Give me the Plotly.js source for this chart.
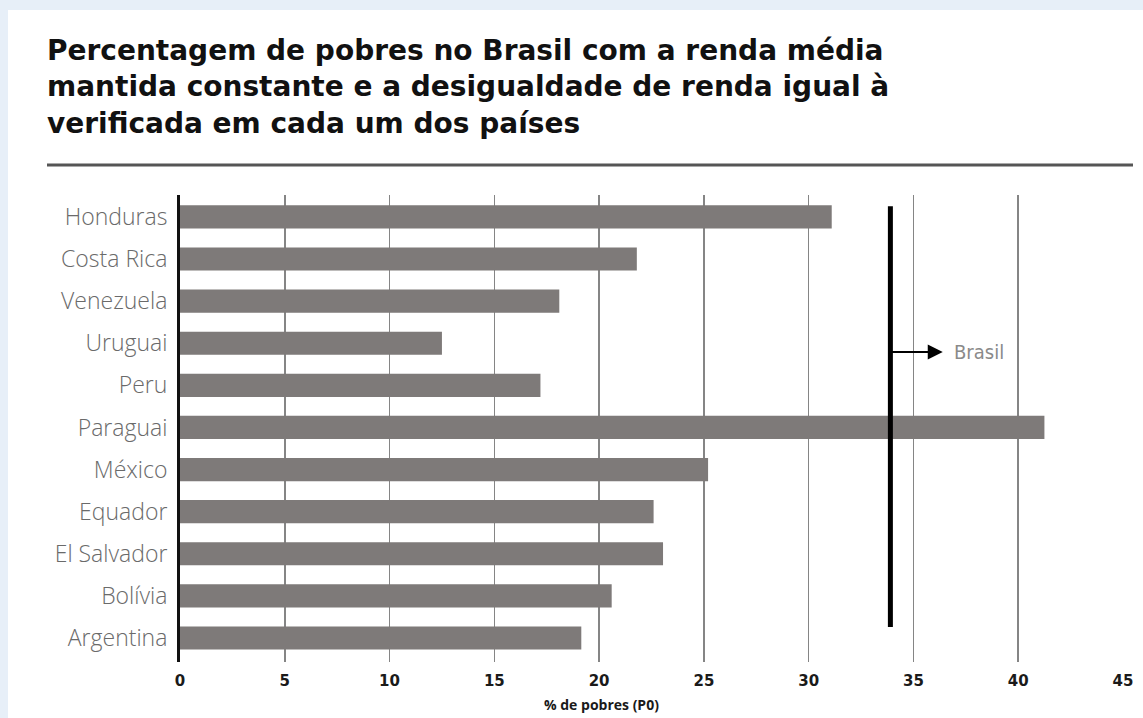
<!DOCTYPE html>
<html>
<head>
<meta charset="utf-8">
<script src="https://cdn.plot.ly/plotly-3.0.1.min.js"></script>
<style>
  html, body { margin: 0; padding: 0; background: #e7eff8; width: 1143px; height: 718px; overflow: hidden; }
  #chart { position: absolute; left: 8px; top: 10px; width: 1135px; height: 708px; background: #ffffff; }
</style>
</head>
<body>
<div id="chart"></div>
<script>
// ---- data ----
const countries = ['Honduras', 'Costa Rica', 'Venezuela', 'Uruguai', 'Peru', 'Paraguai', 'México', 'Equador', 'El Salvador', 'Bolívia', 'Argentina'];
const povertyPct = [31.1, 21.8, 18.1, 12.5, 17.2, 41.25, 25.2, 22.6, 23.05, 20.6, 19.15];
const brasilPct = [33.9];
const brasilLabel = ['Brasil'];
const xTickVals = [0, 5, 10, 15, 20, 25, 30, 35, 40, 45];
const titleLines = ['Percentagem de pobres no Brasil com a renda média', 'mantida constante e a desigualdade de renda igual à', 'verificada em cada um dos países'];
const xTitle = '% de pobres (P0)';

// ---- layout geometry ----
const W = 1135, H = 708, OFFX = 8, OFFY = 10;
const M = { l: 172, r: 20, t: 185, b: 56 };
const plotW = W - M.l - M.r, plotH = H - M.t - M.b;
const px = pageX => (pageX - OFFX - M.l) / plotW;
const py = pageY => 1 - (pageY - OFFY - M.t) / plotH;

const trace = {
  type: 'bar',
  orientation: 'h',
  y: countries,
  x: povertyPct,
  width: 0.55,
  marker: { color: '#7e7a79', line: { width: 0 } },
  hoverinfo: 'x+y'
};

const layout = {
  width: W,
  height: H,
  margin: M,
  paper_bgcolor: '#ffffff',
  plot_bgcolor: '#ffffff',
  showlegend: false,
  title: {
    text: titleLines.join('<br>'),
    font: { family: 'DejaVu Sans', size: 28, color: '#111111', weight: 700 },
    x: (47 - OFFX) / W, xanchor: 'left', xref: 'container',
    y: 1 - 50 / H, yanchor: 'top', yref: 'container'
  },
  xaxis: {
    range: [0, 45],
    tickvals: xTickVals,
    ticktext: xTickVals.map(String),
    showgrid: true,
    gridcolor: '#858585',
    gridwidth: 1.5,
    zeroline: false,
    showline: false,
    ticks: '',
    ticklabelstandoff: 8,
    tickfont: { family: 'DejaVu Sans', size: 15, color: '#1a1a1a', weight: 700 },
    fixedrange: true
  },
  yaxis: {
    type: 'category',
    categoryorder: 'array',
    categoryarray: countries,
    range: [10.57, -0.52],
    showgrid: false,
    zeroline: false,
    showline: true,
    linecolor: '#111111',
    linewidth: 3,
    ticks: '',
    ticklabelstandoff: 5,
    tickfont: { family: 'Open Sans', size: 23, color: '#6a6a6a', weight: 300 },
    fixedrange: true
  },
  shapes: [
    // title rule
    {
      type: 'line', xref: 'paper', yref: 'paper',
      x0: px(47), x1: px(1133),
      y0: py(165), y1: py(165),
      line: { color: '#555555', width: 3 }
    },
    // Brasil reference line
    {
      type: 'line', xref: 'x', yref: 'y',
      x0: brasilPct[0], x1: brasilPct[0],
      y0: -0.25, y1: 9.74,
      line: { color: '#000000', width: 5 }
    }
  ],
  annotations: [
    {
      xref: 'x', yref: 'y', axref: 'x', ayref: 'y',
      x: 36.4, y: 3.21, ax: brasilPct[0], ay: 3.21,
      text: '', showarrow: true,
      arrowhead: 2, arrowsize: 1.5, arrowwidth: 2, arrowcolor: '#000000',
      standoff: 0, startstandoff: 0
    },
    {
      xref: 'x', yref: 'y', x: 36.85, y: 3.21,
      xanchor: 'left', yanchor: 'middle',
      text: brasilLabel[0], showarrow: false,
      font: { family: 'DejaVu Sans Condensed, Liberation Sans Narrow, sans-serif', size: 20, color: '#8a8a8a' }
    },
    {
      xref: 'x', yref: 'paper', x: 20.1, y: 0, yshift: -54,
      xanchor: 'center', yanchor: 'bottom',
      text: xTitle, showarrow: false,
      font: { family: 'Open Sans', size: 14, color: '#1a1a1a', weight: 700 }
    }
  ]
};

Plotly.newPlot('chart', [trace], layout, { displayModeBar: false, staticPlot: true });
</script>
</body>
</html>
